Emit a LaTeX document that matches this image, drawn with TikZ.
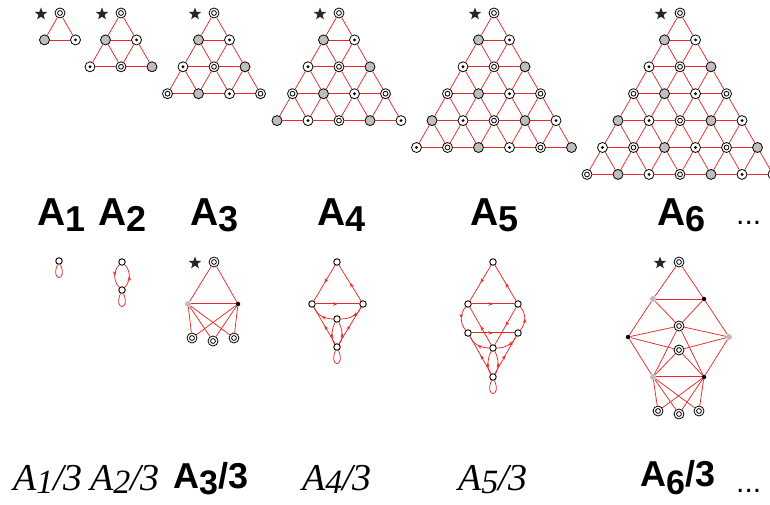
\documentclass[tikz,border=0pt]{standalone}
\usepackage{fontspec}
\newfontfamily\lsans{Liberation Sans}
\newfontfamily\lserif{Liberation Serif}
\usetikzlibrary{shapes.geometric,arrows.meta,decorations.markings}
\definecolor{ered}{RGB}{235,40,40}
\definecolor{ngrayc}{RGB}{190,190,190}
\tikzset{
 nb/.style={circle, draw=black, line width=0.8pt, minimum size=10pt, inner sep=0pt, fill=white},
 ndbl/.style={nb, path picture={\draw[black,line width=0.8pt] (path picture bounding box.center) circle (2.4pt);}},
 ndot/.style={nb, path picture={\fill[black] (path picture bounding box.center) circle (1.6pt);}},
 ngr/.style={nb, fill=ngrayc},
 ed/.style={color=ered, line width=0.75pt},
 dbl/.style={double=white, double distance=0.9pt, line width=0.6pt},
 sm/.style={circle, draw=black, line width=0.9pt, fill=white, minimum size=6.5pt, inner sep=0pt},
 gdot/.style={circle, fill=ngrayc, minimum size=6pt, inner sep=0pt},
 bdot/.style={circle, fill=black, minimum size=4.5pt, inner sep=0pt},
 starn/.style={star, star points=5, star point ratio=2.4, fill=black!85, minimum size=13pt, inner sep=0pt},
 midarr/.style={postaction={decorate}, decoration={markings, mark=at position #1 with {\arrow{Stealth[length=4.5pt,width=3.5pt]}}}},
 midarr/.default=0.5,
 toplab/.style={anchor=base west, inner sep=0pt, font=\lsans\bfseries\fontsize{39}{39}\selectfont},
 botit/.style={anchor=base west, inner sep=0pt, font=\lserif\itshape\fontsize{38}{38}\selectfont},
 botbf/.style={anchor=base west, inner sep=0pt, font=\lsans\bfseries\fontsize{36}{36}\selectfont},
 dots/.style={anchor=base west, inner sep=0pt, font=\lsans\fontsize{30}{30}\selectfont},
}
\newcommand\trinode[4]{\ifcase#4\relax\node[ndbl] (#1) at (#2,#3) {};\or\node[ngr] (#1) at (#2,#3) {};\or\node[ndot] (#1) at (#2,#3) {};\fi}
\newcommand\tri[3]{%
 \foreach \i in {0,...,#2}{\foreach \j in {0,...,\i}{%
   \pgfmathsetmacro\xx{#3+(\j-\i/2)*31}%
   \pgfmathsetmacro\yy{13+\i*26.9}%
   \pgfmathtruncatemacro\vv{mod(\i+\j,3)}%
   \trinode{#1-\i-\j}{\xx}{\yy}{\vv}}}%
 \foreach \i in {1,...,#2}{\foreach \j in {0,...,\i}{%
   \pgfmathtruncatemacro\previ{\i-1}\pgfmathtruncatemacro\prevj{\j-1}%
   \ifnum\j>0 \draw[ed] (#1-\i-\prevj) -- (#1-\i-\j); \draw[ed] (#1-\previ-\prevj) -- (#1-\i-\j);\fi
   \ifnum\j<\i \draw[ed] (#1-\previ-\j) -- (#1-\i-\j);\fi}}%
 \node[starn] (#1-star) at (#3-19,14) {};
}
\newcommand\lp[1]{\draw[ed] (#1) .. controls +(-9,21) and +(9,21) .. (#1);}
\begin{document}
\begin{tikzpicture}[x=1pt,y=-1pt]
\useasboundingbox (0,0) rectangle (770,505);
\fill[white] (0,0) rectangle (770,505);
% top triangles
\tri{Ta}{1}{60}
\tri{Tb}{2}{121}
\tri{Tc}{3}{214}
\tri{Td}{4}{339}
\tri{Te}{5}{494}
\tri{Tf}{6}{680}
% top labels
\node[toplab] (L1) at (37,225) {A\lower6pt\hbox{\fontsize{36}{36}\selectfont 1}};
\node[toplab] (L2) at (98,225) {A\lower6pt\hbox{\fontsize{36}{36}\selectfont 2}};
\node[toplab] (L3) at (190,225) {A\lower6pt\hbox{\fontsize{36}{36}\selectfont 3}};
\node[toplab] (L4) at (317,225) {A\lower6pt\hbox{\fontsize{36}{36}\selectfont 4}};
\node[toplab] (L5) at (470,225) {A\lower6pt\hbox{\fontsize{36}{36}\selectfont 5}};
\node[toplab] (L6) at (657,225) {A\lower6pt\hbox{\fontsize{36}{36}\selectfont 6}};
\node[dots] (D1) at (736,224) {...};
% bottom labels
\node[botit] (M1) at (13,490) {A\lower3pt\hbox{\fontsize{34}{34}\selectfont 1}/3};
\node[botit] (M2) at (90,490) {A\lower3pt\hbox{\fontsize{34}{34}\selectfont 2}/3};
\node[botbf] (M3) at (173,488) {A\lower6pt\hbox{\fontsize{34}{34}\selectfont 3}/3};
\node[botit] (M4) at (302,490) {A\lower3pt\hbox{\fontsize{34}{34}\selectfont 4}/3};
\node[botit] (M5) at (458,490) {A\lower3pt\hbox{\fontsize{34}{34}\selectfont 5}/3};
\node[botbf] (M6) at (640,486) {A\lower8pt\hbox{\fontsize{34}{34}\selectfont 6}/3};
\node[dots] (D2) at (736,492) {...};
% A1/3
\node[sm] (p1) at (59,261) {};
\lp{p1}
% A2/3
\node[sm] (q1) at (122,262) {};
\node[sm] (q2) at (122,290) {};
\draw[ed,midarr] (q1) to[bend right=45] (q2);
\draw[ed,midarr] (q2) to[bend right=45] (q1);
\lp{q2}
% A3/3
\node[starn] (cs) at (195,263) {};
\node[ndbl] (c0) at (214,262) {};
\node[gdot] (cg) at (188,304) {};
\node[bdot] (cb) at (238,304) {};
\node[ndbl] (c1) at (192,338) {};
\node[ndbl] (c2) at (213,341) {};
\node[ndbl] (c3) at (234,338) {};
\draw[ed] (c0) -- (cg); \draw[ed] (c0) -- (cb);
\draw[ed,dbl] (cg) -- (cb);
\foreach \t in {c1,c2,c3}{\draw[ed] (cg) -- (\t); \draw[ed] (cb) -- (\t);}
% A4/3
\node[sm] (d0) at (337,262) {};
\node[sm] (dL) at (312,304) {};
\node[sm] (dR) at (363,304) {};
\node[sm] (dM) at (337,319) {};
\node[sm] (dB) at (337,347) {};
\draw[ed,midarr] (d0) -- (dL);
\draw[ed,midarr] (dR) -- (d0);
\draw[ed,dbl,midarr] (dL) -- (dR);
\draw[ed,midarr] (dM) .. controls +(-14,0) and +(5,10) .. (dL);
\draw[ed,midarr] (dR) .. controls +(-5,10) and +(14,0) .. (dM);
\draw[ed,midarr] (dB) -- (dL);
\draw[ed,midarr] (dB) -- (dR);
\draw[ed,midarr] (dB) .. controls +(-7,-9) and +(-5,9) .. (dM);
\draw[ed,midarr] (dB) .. controls +(7,-9) and +(5,9) .. (dM);
\lp{dB}
% A5/3
\node[sm] (e0) at (493,262) {};
\node[sm] (eL1) at (468,304) {};
\node[sm] (eR1) at (518,304) {};
\node[sm] (eL2) at (468,333) {};
\node[sm] (eR2) at (518,333) {};
\node[sm] (eM) at (493,348) {};
\node[sm] (eB) at (493,377) {};
\draw[ed,midarr] (e0) -- (eL1);
\draw[ed,midarr] (eR1) -- (e0);
\draw[ed,dbl,midarr] (eL1) -- (eR1);
\draw[ed,dbl,midarr] (eL2) -- (eR2);
\draw[ed,midarr] (eL1) to[bend right=40] (eL2);
\draw[ed,midarr] (eR2) to[bend right=40] (eR1);
\draw[ed,midarr] (eM) -- (eL1);
\draw[ed,midarr] (eR1) -- (eM);
\draw[ed,midarr] (eM) .. controls +(-14,0) and +(5,10) .. (eL2);
\draw[ed,midarr] (eR2) .. controls +(-5,10) and +(14,0) .. (eM);
\draw[ed,midarr] (eB) -- (eL2);
\draw[ed,midarr] (eB) -- (eR2);
\draw[ed,midarr] (eB) .. controls +(-7,-9) and +(-5,9) .. (eM);
\draw[ed,midarr] (eB) .. controls +(7,-9) and +(5,9) .. (eM);
\lp{eB}
% A6/3
\node[starn] (fs) at (660,263) {};
\node[ndbl] (f0) at (679,262) {};
\node[gdot] (fg1) at (653,299) {};
\node[bdot] (fb1) at (704,299) {};
\node[ndbl] (fm1) at (679,326) {};
\node[bdot] (fbl) at (628,337) {};
\node[gdot] (fgr) at (729,337) {};
\node[ndbl] (fm2) at (679,350) {};
\node[gdot] (fg2) at (653,377) {};
\node[bdot] (fb2) at (704,377) {};
\node[ndbl] (f1) at (658,411) {};
\node[ndbl] (f2) at (679,414) {};
\node[ndbl] (f3) at (699,411) {};
\draw[ed] (f0) -- (fg1); \draw[ed] (f0) -- (fb1); \draw[ed] (fg1) -- (fb1);
\draw[ed] (fg1) -- (fm1); \draw[ed] (fb1) -- (fm1);
\draw[ed] (fg1) -- (fbl); \draw[ed] (fb1) -- (fgr);
\draw[ed] (fbl) -- (fm1); \draw[ed] (fbl) -- (fm2);
\draw[ed] (fgr) -- (fm1); \draw[ed] (fgr) -- (fm2);
\draw[ed] (fbl) -- (fg2); \draw[ed] (fgr) -- (fb2);
\draw[ed] (fm1) -- (fg2); \draw[ed] (fm1) -- (fb2);
\draw[ed] (fm2) -- (fg2); \draw[ed] (fm2) -- (fb2);
\draw[ed,dbl] (fg2) -- (fb2);
\foreach \t in {f1,f2,f3}{\draw[ed] (fg2) -- (\t); \draw[ed] (fb2) -- (\t);}
\end{tikzpicture}
\end{document}
